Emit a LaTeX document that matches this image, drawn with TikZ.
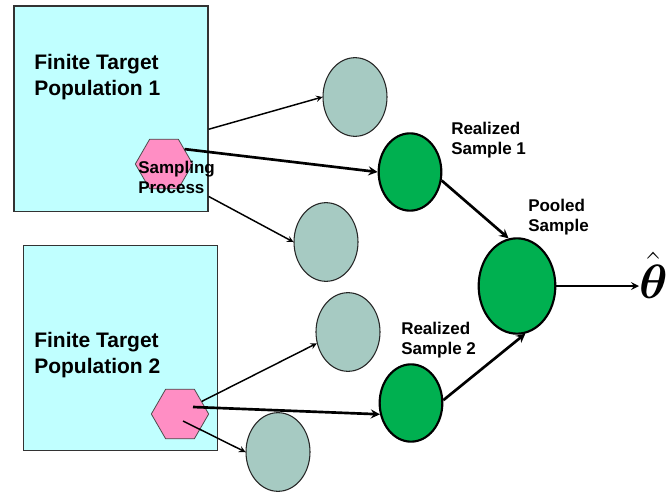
\documentclass[tikz,border=0pt]{standalone}
\usepackage{amsmath}
\usepackage{graphicx}
\usepackage{fontspec}
\setmainfont{Liberation Sans}
\usetikzlibrary{shapes.geometric,arrows}
\definecolor{popcyan}{RGB}{192,255,255}
\definecolor{procpink}{RGB}{255,142,196}
\definecolor{unseen}{RGB}{166,202,194}
\definecolor{realgreen}{RGB}{0,176,80}
\begin{document}
\begin{tikzpicture}[x=0.75pt,y=-0.75pt,
 popbox/.style={draw=black!80,fill=popcyan,line width=1pt,minimum width=145.5pt,minimum height=154pt,inner sep=0pt},
 proc/.style={regular polygon,regular polygon sides=6,draw=black!70,fill=procpink,line width=0.6pt,minimum size=43pt,inner sep=0pt},
 other/.style={ellipse,draw=black!85,fill=unseen,line width=0.8pt,minimum width=48pt,minimum height=59pt,inner sep=0pt},
 real/.style={ellipse,draw=black,fill=realgreen,line width=1.6pt,minimum width=47pt,minimum height=58pt,inner sep=0pt},
 poptext/.style={font=\fontsize{15.75}{19.5}\selectfont\bfseries,align=left,anchor=west,inner sep=0pt},
 lab/.style={font=\fontsize{12.75}{15}\selectfont\bfseries,align=left,anchor=west,inner sep=0pt},
 thin/.style={->,line width=1.1pt},
 thick/.style={->,line width=2pt},>=stealth]
\useasboundingbox (0,0) rectangle (669,493);
% populations
\node[popbox] (box1) at (111,108.5) {};
\node[popbox] (box2) at (120.5,348) {};
\node[poptext] (pop1) at (34,77.5) {Finite Target\\Population 1};
\node[poptext] (pop2) at (34,355) {Finite Target\\Population 2};
\node[proc] (hex1) at (164,164) {};
\node[proc] (hex2) at (180,414) {};
\node[lab] (proc1) at (138,177) {Sampling\\Process};
% samples
\node[other] (g1) at (355,97) {};
\node[other] (g2) at (326,242) {};
\node[other] (g3) at (348,332) {};
\node[other] (g4) at (278,452) {};
\node[real] (r1) at (410,172) {};
\node[real] (r2) at (411,403) {};
\node[real,minimum width=57.5pt,minimum height=71.5pt] (pooled) at (517,286) {};
\node[lab] (r1lab) at (451,140) {Realized\\Sample 1};
\node[lab] (r2lab) at (401,340) {Realized\\Sample 2};
\node[lab] (plab) at (528,217) {Pooled\\Sample};
\node[anchor=west,inner sep=0pt,font=\Huge] (theta) at (639,275) {\scalebox{1.45}{$\hat{\boldsymbol{\theta}}$}};
% arrows
\draw[thin] (box1.-12) -- (g1.west);
\draw[thick] (hex1.36) -- (r1.west);
\draw[thin] (box1.-42) -- (g2.west);
\draw[thin] (hex2.30) -- (g3.200);
\draw[thick] ([shift={(13,-7)}]hex2.center) -- (r2.200);
\draw[thin] ([shift={(3,7)}]hex2.center) -- (g4.west);
\draw[thick] (r1.-15) -- (pooled.100);
\draw[thick] (r2.5) -- (pooled.-80);
\draw[thick,line width=1.6pt] (pooled.east) -- (theta.west |- pooled.east);
\end{tikzpicture}
\end{document}
